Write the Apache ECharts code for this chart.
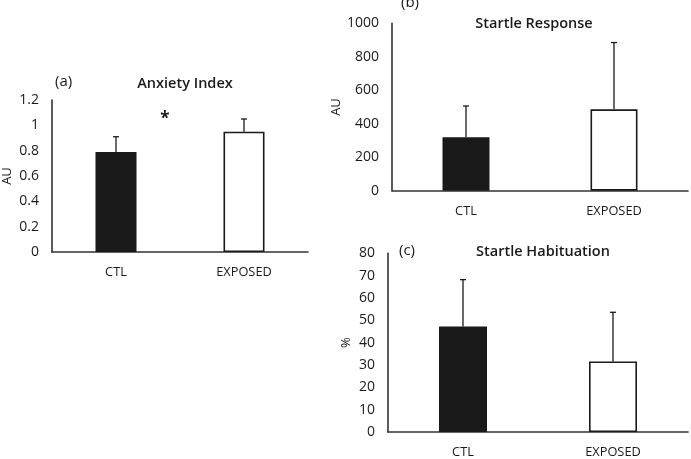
<!DOCTYPE html>
<html><head><meta charset="utf-8">
<script src="https://cdn.jsdelivr.net/npm/echarts@6/dist/echarts.min.js"></script>
<style>html,body{margin:0;padding:0;background:#fff}#c{width:691px;height:459px}</style>
</head><body><div id="c"></div>
<script>
var categories = ['CTL', 'EXPOSED'];
var anxietyMean = [0.79, 0.95];
var anxietyErr = [0.12, 0.10];
var startleMean = [319, 486];
var startleErr = [187, 399];
var habituationMean = [47.2, 31.6];
var habituationErr = [21, 22];
var anxietyTicks = {min: 0, max: 1.2, interval: 0.2};
var startleTicks = {min: 0, max: 1000, interval: 200};
var habituationTicks = {min: 0, max: 80, interval: 10};

var FONT = 'Open Sans';
var AX = '#333333';
var TXT = '#1a1a1a';
var barColors = ['#1a1a1a', '#ffffff'];

function errItem(params, api) {
  var x = api.value(0), top = api.value(2), base = api.value(1);
  var p0 = api.coord([x, base]);
  var p1 = api.coord([x, top]);
  var cap = 3;
  return {type: 'group', children: [
    {type: 'line', shape: {x1: p0[0], y1: p0[1], x2: p1[0], y2: p1[1]}, style: {stroke: '#1a1a1a', lineWidth: 1.3}},
    {type: 'line', shape: {x1: p1[0] - cap, y1: p1[1], x2: p1[0] + cap, y2: p1[1]}, style: {stroke: '#1a1a1a', lineWidth: 1.3}}
  ]};
}

var grids = [
  {left: 49.5, right: 383, top: 100, bottom: 207},
  {left: 392, right: 3, top: 23.3, bottom: 268.3},
  {left: 388, right: 3, top: 253.3, bottom: 25}
];
var ticks = [anxietyTicks, startleTicks, habituationTicks];
var means = [anxietyMean, startleMean, habituationMean];
var errs = [anxietyErr, startleErr, habituationErr];
var names = ['AU', 'AU', '%'];
var nameGaps = [38, 47, 35];
var barWidths = [41, 47, 48];

var xAxes = [], yAxes = [], series = [];
for (var i = 0; i < 3; i++) {
  xAxes.push({type: 'category', gridIndex: i, data: categories,
    axisLine: {lineStyle: {color: AX, width: 1.6}}, axisTick: {show: false},
    axisLabel: {color: TXT, fontFamily: FONT, fontSize: 12.8, margin: 14}});
  yAxes.push({type: 'value', gridIndex: i, min: ticks[i].min, max: ticks[i].max, interval: ticks[i].interval,
    name: names[i], nameLocation: 'middle', nameGap: nameGaps[i], nameRotate: 90,
    nameTextStyle: {color: TXT, fontFamily: FONT, fontSize: 13},
    axisLine: {show: true, lineStyle: {color: AX, width: 1.6}}, axisTick: {show: false}, splitLine: {show: false},
    axisLabel: {color: TXT, fontFamily: FONT, fontSize: 14, margin: 13, formatter: function (v) { return String(v); }}});
  series.push({type: 'bar', xAxisIndex: i, yAxisIndex: i, barWidth: barWidths[i],
    data: means[i].map(function (v, j) {
      return {value: v, itemStyle: {color: barColors[j], borderColor: '#1a1a1a', borderWidth: 1.6}};
    }), z: 3});
  series.push({type: 'custom', xAxisIndex: i, yAxisIndex: i, renderItem: errItem,
    data: means[i].map(function (v, j) { return [j, v, v + errs[i][j]]; }), z: 2});
}

var chart = echarts.init(document.getElementById('c'));
chart.setOption({
  animation: false,
  grid: grids,
  xAxis: xAxes,
  yAxis: yAxes,
  series: series,
  graphic: [
    {type: 'text', left: 55, top: 74, style: {text: '(a)', font: '15px "Open Sans"', fill: TXT}},
    {type: 'text', x: 185, y: 84, style: {text: 'Anxiety Index', font: '600 14.5px "Open Sans"', fill: TXT, textAlign: 'center', textVerticalAlign: 'middle'}},
    {type: 'text', x: 165, y: 119, style: {text: '*', font: 'bold 17px "Open Sans"', fill: TXT, textAlign: 'center', textVerticalAlign: 'middle'}},
    {type: 'text', left: 401, top: -5, style: {text: '(b)', font: '15px "Open Sans"', fill: TXT}},
    {type: 'text', x: 534, y: 24, style: {text: 'Startle Response', font: '600 14.5px "Open Sans"', fill: TXT, textAlign: 'center', textVerticalAlign: 'middle'}},
    {type: 'text', left: 399, top: 243, style: {text: '(c)', font: '15px "Open Sans"', fill: TXT}},
    {type: 'text', x: 543, y: 252, style: {text: 'Startle Habituation', font: '600 14.5px "Open Sans"', fill: TXT, textAlign: 'center', textVerticalAlign: 'middle'}}
  ]
});
</script></body></html>
